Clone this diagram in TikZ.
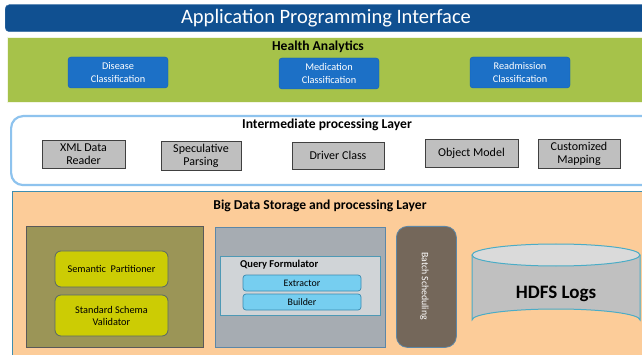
\documentclass[tikz,border=0pt]{standalone}
\usepackage{fontspec}
\setmainfont{Carlito}
\usetikzlibrary{shapes.geometric}

\definecolor{apiblue}{RGB}{16,80,145}
\definecolor{hagreen}{RGB}{166,194,74}
\definecolor{clsblue}{RGB}{28,112,198}
\definecolor{clsedge}{RGB}{20,96,176}
\definecolor{boxgray}{RGB}{191,191,191}
\definecolor{layeredge}{RGB}{142,195,238}
\definecolor{storeorange}{RGB}{252,204,153}
\definecolor{storeedge}{RGB}{62,142,176}
\definecolor{olive}{RGB}{155,149,87}
\definecolor{semyellow}{RGB}{204,204,4}
\definecolor{semedge}{RGB}{88,104,104}
\definecolor{querygray}{RGB}{166,172,178}
\definecolor{queryedge}{RGB}{92,135,168}
\definecolor{innergray}{RGB}{208,212,215}
\definecolor{skyblue}{RGB}{118,206,240}
\definecolor{skyedge}{RGB}{58,138,176}
\definecolor{batchbrown}{RGB}{116,103,90}
\definecolor{cylbody}{RGB}{192,192,192}
\definecolor{cyltop}{RGB}{218,218,218}
\definecolor{cyledge}{RGB}{75,172,198}

\tikzset{
  classbox/.style={rectangle, rounded corners=3pt, fill=clsblue, draw=clsedge,
    text=white, font=\fontsize{10.3}{12.3}\selectfont, align=center,
    minimum width=100pt, minimum height=31pt, inner sep=0pt},
  procbox/.style={rectangle, fill=boxgray, draw=black!75, line width=0.8pt,
    font=\fontsize{12}{13}\selectfont, align=center, inner sep=0pt},
  semibox/.style={rectangle, rounded corners=6pt, fill=semyellow, draw=semedge,
    line width=0.8pt, font=\fontsize{10.3}{12}\selectfont, align=center,
    minimum width=113pt, inner sep=0pt},
  partbox/.style={rectangle, rounded corners=3pt, fill=skyblue, draw=skyedge,
    line width=0.7pt, font=\fontsize{9.9}{11}\selectfont,
    minimum width=118pt, minimum height=16pt, inner sep=0pt},
  layertitle/.style={font=\bfseries\fontsize{13.6}{15}\selectfont, inner sep=0pt},
}

\begin{document}
\begin{tikzpicture}[x=1pt, y=-1pt]
\useasboundingbox (0,0) rectangle (642,355);
\fill[white] (0,0) rectangle (642,355);

% API banner
\node[rectangle, rounded corners=4pt, fill=apiblue, draw=apiblue!80!white,
  minimum width=660pt, minimum height=27pt, inner sep=0pt, anchor=north west]
  (api) at (5,4.5) {};
\node[text=white, font=\fontsize{20.5}{24}\selectfont, inner sep=0pt]
  (apititle) at (326,18.5) {Application Programming Interface};

% Health analytics layer
\node[rectangle, fill=hagreen, draw=white!85!hagreen, line width=0.8pt,
  minimum width=660pt, minimum height=65pt, inner sep=0pt, anchor=north west]
  (health) at (7,37) {};
\node[layertitle] (healthtitle) at (318,46.5) {Health Analytics};
\node[classbox] (disease) at (118,72.5) {Disease\\Classification};
\node[classbox] (medication) at (329,73.5) {Medication\\Classification};
\node[classbox] (readmission) at (520,72.5) {Readmission\\Classification};

% Intermediate processing layer
\node[rectangle, rounded corners=12pt, draw=layeredge, line width=2.2pt, fill=white,
  minimum width=680pt, minimum height=69pt, inner sep=0pt, anchor=north west]
  (inter) at (10,115) {};
\node[layertitle] (intertitle) at (327,125) {Intermediate processing Layer};
\node[procbox, minimum width=83pt, minimum height=28pt] (xml) at (83.5,154) {XML Data\\Reader};
\node[procbox, minimum width=80pt, minimum height=29pt] (spec) at (201,155.5) {Speculative\\Parsing};
\node[procbox, minimum width=92pt, minimum height=27pt] (driver) at (338,155.5) {Driver Class};
\node[procbox, minimum width=93pt, minimum height=28pt] (object) at (471.5,153) {Object Model};
\node[procbox, minimum width=82pt, minimum height=29pt] (custom) at (579,153.5) {Customized\\Mapping};

% Big data storage layer
\node[rectangle, fill=storeorange, draw=storeedge, line width=0.8pt,
  minimum width=660pt, minimum height=180pt, inner sep=0pt, anchor=north west]
  (store) at (11.5,191.5) {};
\node[layertitle] (storetitle) at (320,205.5) {Big Data Storage and processing Layer};

% Semantic block
\node[rectangle, fill=olive, draw=black!65, line width=0.8pt,
  minimum width=177pt, minimum height=121pt, inner sep=0pt, anchor=north west]
  (semantic) at (26,226) {};
\node[semibox, minimum height=36pt] (partitioner) at (111.5,269) {Semantic~ Partitioner};
\node[semibox, minimum height=41pt] (validator) at (111.5,315.5) {Standard Schema\\Validator};

% Query block
\node[rectangle, fill=querygray, draw=queryedge, line width=0.8pt,
  minimum width=170pt, minimum height=120pt, inner sep=0pt, anchor=north west]
  (query) at (215,227) {};
\node[rectangle, fill=innergray, draw=queryedge!85!cyan, line width=0.8pt,
  minimum width=160pt, minimum height=59pt, inner sep=0pt, anchor=north west]
  (formulator) at (220,256) {};
\node[font=\bfseries\fontsize{10.5}{12}\selectfont, inner sep=0pt, anchor=west]
  (formtitle) at (240,264.5) {Query Formulator};
\node[partbox] (extractor) at (302,283) {Extractor};
\node[partbox] (builder) at (302,302) {Builder};

% Batch scheduling column
\node[rectangle, rounded corners=11pt, fill=batchbrown, draw=queryedge, line width=0.8pt,
  minimum width=60pt, minimum height=121pt, inner sep=0pt, anchor=north west]
  (batch) at (396,226) {};
\node[text=white, font=\fontsize{9.8}{11}\selectfont, rotate=-90, inner sep=0pt]
  (batchtext) at (424.5,286) {Batch Scheduling};

% HDFS storage cylinder
\fill[cylbody] (472,255) -- (472,320) arc[start angle=180, end angle=360, x radius=84, y radius=11]
  -- (640,255) -- cycle;
\draw[cyledge, line width=1pt] (472,255) -- (472,320) arc[start angle=180, end angle=360, x radius=84, y radius=11]
  -- (640,255);
\filldraw[fill=cyltop, draw=cyledge, line width=1pt] (556,255) ellipse[x radius=84, y radius=11];
\node[font=\bfseries\fontsize{19}{22}\selectfont, inner sep=0pt] (hdfs) at (556,293.5) {HDFS Logs};
\end{tikzpicture}
\end{document}
